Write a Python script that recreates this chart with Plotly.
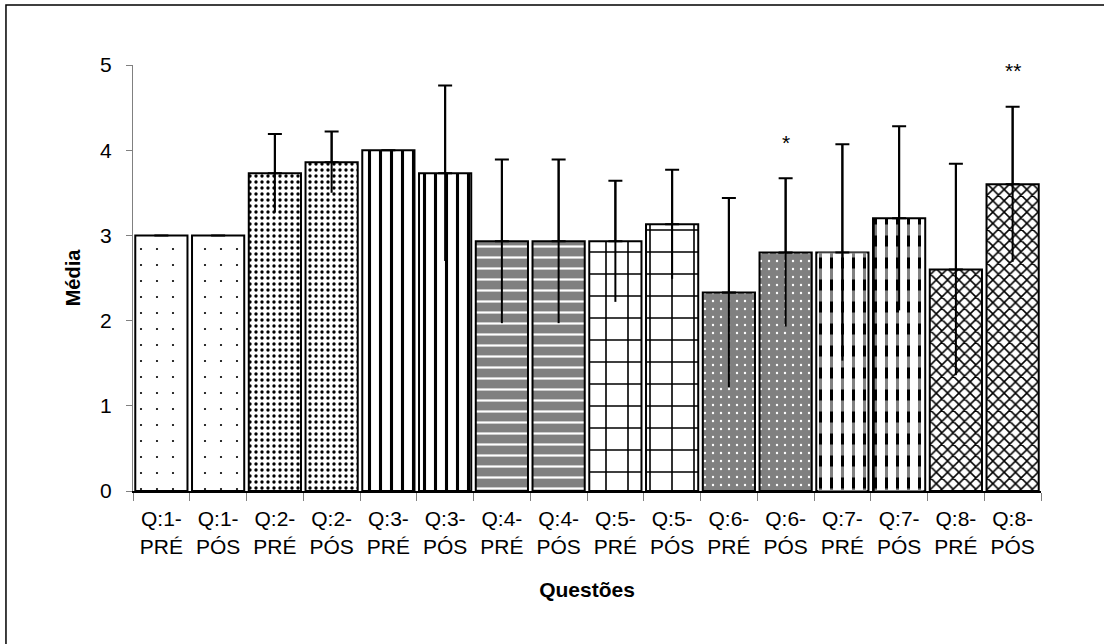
import plotly.graph_objects as go

categories = ["Q:1-<br>PRÉ", "Q:1-<br>PÓS", "Q:2-<br>PRÉ", "Q:2-<br>PÓS",
              "Q:3-<br>PRÉ", "Q:3-<br>PÓS", "Q:4-<br>PRÉ", "Q:4-<br>PÓS",
              "Q:5-<br>PRÉ", "Q:5-<br>PÓS", "Q:6-<br>PRÉ", "Q:6-<br>PÓS",
              "Q:7-<br>PRÉ", "Q:7-<br>PÓS", "Q:8-<br>PRÉ", "Q:8-<br>PÓS"]
means = [3.0, 3.0, 3.73, 3.86, 4.0, 3.73, 2.93, 2.93,
         2.93, 3.13, 2.33, 2.80, 2.80, 3.20, 2.60, 3.60]
sds = [0.0, 0.0, 0.46, 0.36, 0.0, 1.03, 0.96, 0.96,
       0.71, 0.64, 1.11, 0.87, 1.27, 1.08, 1.24, 0.91]
signif = ["", "", "", "", "", "", "", "", "", "", "", "*", "", "", "", "**"]
y_ticks = [0, 1, 2, 3, 4, 5]

# pattern style per question (pairs of bars)
styles = [
    dict(shape=".", fgcolor="black", bgcolor="white", size=16, solidity=0.015),
    dict(shape=".", fgcolor="black", bgcolor="white", size=6, solidity=0.25),
    dict(shape="|", fgcolor="black", bgcolor="white", size=11, solidity=0.28),
    dict(shape="-", fgcolor="white", bgcolor="#808080", size=11, solidity=0.2),
    dict(shape="+", fgcolor="black", bgcolor="white", size=22, solidity=0.14),
    dict(shape=".", fgcolor="white", bgcolor="#808080", size=8, solidity=0.07),
    dict(shape="|", fgcolor="black", bgcolor="white", size=11, solidity=0.27),
    dict(shape="x", fgcolor="black", bgcolor="white", size=8, solidity=0.35),
]

fig = go.Figure()
for q in range(8):
    xs = categories[2 * q:2 * q + 2]
    ys = means[2 * q:2 * q + 2]
    st = styles[q]
    fig.add_trace(go.Bar(
        x=xs, y=ys, width=0.92,
        marker=dict(color=st["bgcolor"], line=dict(color="black", width=2),
                    pattern=dict(shape=st["shape"], fgcolor=st["fgcolor"],
                                 bgcolor=st["bgcolor"], size=st["size"],
                                 solidity=st["solidity"], fillmode="replace")),
        showlegend=False, hoverinfo="skip"))
    if q == 6:
        # break vertical lines into dashes
        fig.add_trace(go.Bar(
            x=xs, y=ys, width=0.86,
            marker=dict(color="rgba(0,0,0,0)", line=dict(width=0),
                        pattern=dict(shape="-", fgcolor="white",
                                     bgcolor="rgba(0,0,0,0)", size=22,
                                     solidity=0.5)),
            showlegend=False, hoverinfo="skip"))

# error bars: full symmetric line without caps, plus upper cap
fig.add_trace(go.Scatter(
    x=categories, y=means, mode="markers", marker=dict(size=1, opacity=0),
    error_y=dict(type="data", array=sds, arrayminus=sds, color="black",
                 thickness=2, width=0, symmetric=False),
    showlegend=False, hoverinfo="skip"))
fig.add_trace(go.Scatter(
    x=categories, y=means, mode="markers", marker=dict(size=1, opacity=0),
    error_y=dict(type="data", array=sds, arrayminus=[0] * len(sds),
                 color="black", thickness=2, width=7, symmetric=False),
    showlegend=False, hoverinfo="skip"))

for c, m, s, t in zip(categories, means, sds, signif):
    if t:
        fig.add_annotation(x=c, y=m + s, text=t, showarrow=False,
                           yshift=36, font=dict(size=21, color="black",
                                                family="Liberation Sans, Arial"))

fig.add_shape(type="rect", xref="paper", yref="paper",
              x0=-0.1399, y0=-0.6, x1=1.2, y1=1.1408,
              line=dict(color="black", width=1.5), fillcolor="rgba(0,0,0,0)",
              layer="below")

fig.update_layout(
    width=1104, height=644,
    margin=dict(l=133, r=63, t=65, b=153),
    paper_bgcolor="white", plot_bgcolor="white",
    barmode="overlay",
    font=dict(family="Liberation Sans, Arial", size=21, color="black"),
    xaxis=dict(
        title=dict(text="<b>Questões</b>", font=dict(size=21), standoff=26),
        range=[-0.5, 15.5],
        showline=True, linecolor="black", linewidth=2,
        ticks="outside", tickson="boundaries", ticklen=8, tickcolor="#808080",
        tickfont=dict(size=21), ticklabelstandoff=8,
        showgrid=False, zeroline=False,
        categoryorder="array", categoryarray=categories),
    yaxis=dict(
        title=dict(text="<b>Média</b>", font=dict(size=20), standoff=14),
        range=[0, 5], tickvals=y_ticks, showline=True, linecolor="#808080",
        linewidth=1, ticks="outside", ticklen=6, tickcolor="#808080",
        tickfont=dict(size=21), ticklabelstandoff=10,
        showgrid=False, zeroline=False),
)

fig.write_html("out.html", config={"displayModeBar": False}, post_script=(
    "document.body.style.margin='0';"
    "document.body.style.overflow='hidden';"))
